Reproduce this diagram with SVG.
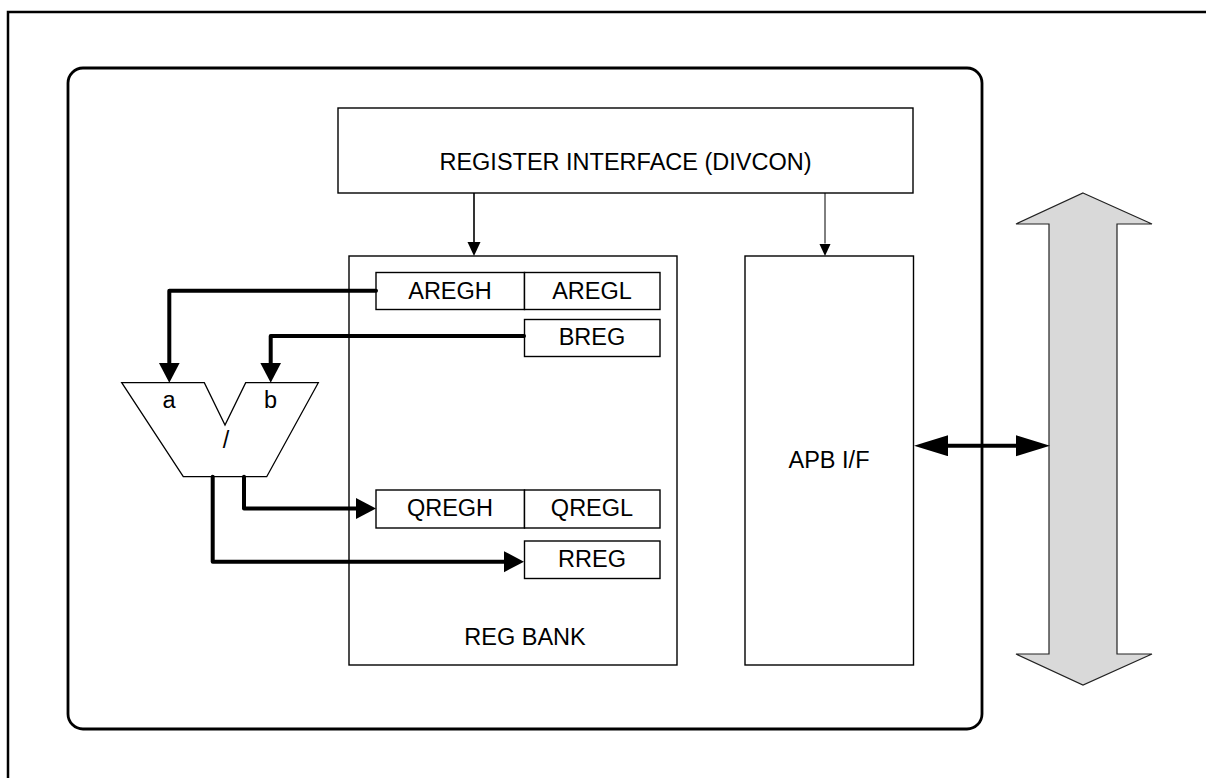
<svg xmlns="http://www.w3.org/2000/svg" width="1206" height="778" viewBox="0 0 1206 778">
<style>
text{font-family:"Liberation Sans",Arial,sans-serif;font-size:23.5px;fill:#000;text-anchor:middle}
.box{fill:#fff;stroke:#000;stroke-width:1.4}
.thick{fill:none;stroke:#000;stroke-width:4;stroke-linejoin:round;stroke-linecap:round}
.thin{fill:none;stroke:#000}
</style>
<defs>
<marker id="ah" markerUnits="userSpaceOnUse" markerWidth="22" markerHeight="22" refX="0" refY="10.5" orient="auto" viewBox="0 0 22 22">
<path d="M0,0 L20,10.5 L0,21 z" fill="#000"/>
</marker>
<marker id="ahl" markerUnits="userSpaceOnUse" markerWidth="36" markerHeight="22" refX="0" refY="10.5" orient="auto-start-reverse" viewBox="0 0 36 22">
<path d="M0,0 L34,10.5 L0,21 z" fill="#000"/>
</marker>
<marker id="ahs" markerUnits="userSpaceOnUse" markerWidth="16" markerHeight="14" refX="0" refY="6.5" orient="auto" viewBox="0 0 16 14">
<path d="M0,0 L14,6.5 L0,13 z" fill="#000"/>
</marker>
<marker id="ahs2" markerUnits="userSpaceOnUse" markerWidth="14" markerHeight="12" refX="0" refY="5.75" orient="auto" viewBox="0 0 14 12">
<path d="M0,0 L12.5,5.75 L0,11.5 z" fill="#000"/>
</marker>
</defs>
<rect id="frame" x="8" y="12" width="1210" height="780" fill="#fff" stroke="#000" stroke-width="2.5"/>
<rect id="block" x="68" y="68" width="914" height="661" rx="15" ry="15" fill="#fff" stroke="#000" stroke-width="2.8"/>
<g id="regif">
<rect class="box" x="338" y="108" width="575" height="85" stroke-width="1.6"/>
<text x="625.5" y="170">REGISTER INTERFACE (DIVCON)</text>
</g>
<g id="regbank">
<rect class="box" x="349" y="256" width="328" height="409" stroke-width="1.2"/>
<text x="525" y="645">REG BANK</text>
</g>
<g id="aregh">
<rect class="box" x="376" y="272.5" width="148.5" height="37"/>
<text x="450" y="298.5">AREGH</text>
</g>
<g id="aregl">
<rect class="box" x="524.5" y="272.5" width="135.5" height="37"/>
<text x="592" y="298.5">AREGL</text>
</g>
<g id="breg">
<rect class="box" x="524.5" y="319.5" width="135.5" height="37"/>
<text x="592" y="345">BREG</text>
</g>
<g id="qregh">
<rect class="box" x="376" y="490" width="148.5" height="38"/>
<text x="450" y="516">QREGH</text>
</g>
<g id="qregl">
<rect class="box" x="524.5" y="490" width="135.5" height="38"/>
<text x="592" y="516">QREGL</text>
</g>
<g id="rreg">
<rect class="box" x="524.5" y="541" width="135.5" height="37.5"/>
<text x="592" y="566.5">RREG</text>
</g>
<g id="apb">
<rect class="box" x="745" y="256" width="168.5" height="409"/>
<text x="829" y="468">APB I/F</text>
</g>
<g id="divider">
<polygon points="121.7,382.7 204.3,382.7 225,425 245.7,382.7 318.3,382.7 266.7,476.7 183.3,476.7" fill="#fff" stroke="#000" stroke-width="1.3"/>
<text x="169" y="408">a</text>
<text x="270.5" y="408">b</text>
<text x="226" y="448">/</text>
</g>
<g id="bus">
<polygon points="1083,193 1152,224 1117,224 1117,654 1152,654 1083,685 1016,654 1049,654 1049,224 1016,224" fill="#d9d9d9" stroke="#222" stroke-width="1.2"/>
</g>
<g id="connectors">
<path class="thick" d="M376,290.7 H169.3 V362.7" marker-end="url(#ah)"/>
<path class="thick" d="M524,336 H270.7 V362.7" marker-end="url(#ah)"/>
<path class="thick" d="M244,476.7 V508.5 H356" marker-end="url(#ah)"/>
<path class="thick" d="M212.7,476.7 V561.7 H504" marker-end="url(#ah)"/>
<path class="thick" d="M948,445.7 H1016" style="stroke-linecap:butt" marker-start="url(#ahl)" marker-end="url(#ahl)"/>
<path class="thin" d="M474,193 V242" stroke-width="1.6" marker-end="url(#ahs)"/>
<path class="thin" d="M825,193 V243.5" stroke-width="1" marker-end="url(#ahs2)"/>
</g>
</svg>
